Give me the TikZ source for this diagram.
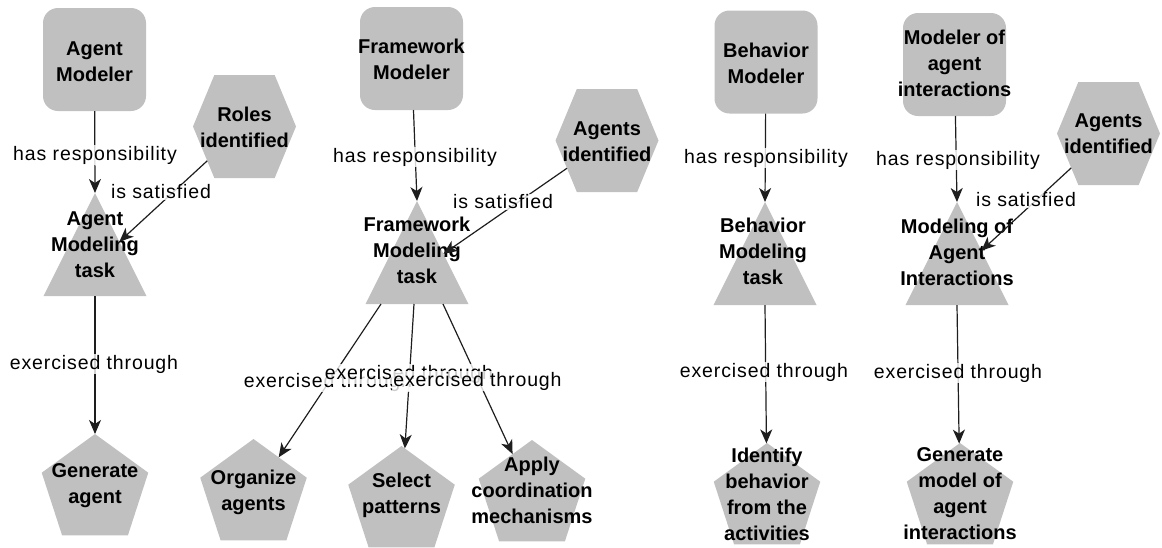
\documentclass[tikz,border=0pt]{standalone}
\usepackage{fontspec}
\setmainfont{Liberation Sans}
\usetikzlibrary{arrows.meta,shapes.geometric,shapes.symbols,calc}
\definecolor{shapegrey}{RGB}{192,192,192}
\definecolor{edgecol}{RGB}{30,30,30}
\tikzset{
  shapebase/.style={fill=shapegrey, draw=none, inner sep=0pt, outer sep=0pt},
  rolebox/.style={shapebase, rectangle, rounded corners=15pt, minimum width=103pt, minimum height=103pt},
  hexbox/.style={shapebase, signal, signal to=east and west, signal from=nowhere, signal pointer angle=135, minimum width=103pt, minimum height=103pt},
  taskbox/.style={shapebase, isosceles triangle, isosceles triangle stretches, shape border rotate=90, minimum width=103pt, minimum height=103pt, anchor=north},
  pentbox/.style={shapebase, regular polygon, regular polygon sides=5, minimum size=112pt},
  nodetext/.style={font=\bfseries\fontsize{20}{26}\selectfont, align=center, inner sep=0pt, text=black},
  lbl/.style={font=\fontsize{19.5}{22}\selectfont\addfontfeatures{LetterSpace=4.5}, fill=white, fill opacity=0.8, text opacity=1, inner sep=1pt, text=black},
  arr/.style={draw=edgecol, line width=1.2pt, -{Stealth[length=14pt,width=12pt,inset=4pt]}},
}
\begin{document}
\begin{tikzpicture}[x=1pt,y=-1pt]
\useasboundingbox (0,0) rectangle (1162,547);
% ---------- shapes ----------
% column 1
\node[rolebox] (am) at (94.5,59.5) {};
\node[hexbox] (ri) at (244.5,126.5) {};
\node[taskbox] (amt) at (95,193) {};
\node[pentbox] (ga) at (95,490) {};
% column 2
\node[rolebox] (fm) at (411.5,58.5) {};
\node[hexbox] (ai1) at (607,140.5) {};
\node[taskbox] (fmt) at (417,201) {};
\node[pentbox] (oa) at (253.5,495) {};
\node[pentbox] (sp) at (401.5,502) {};
\node[pentbox] (ac) at (532,496) {};
% column 3
\node[rolebox] (bm) at (766,62) {};
\node[taskbox] (bmt) at (765,202) {};
\node[pentbox] (ib) at (767,499) {};
% column 4
\node[rolebox] (mai) at (954.5,64.5) {};
\node[hexbox] (ai2) at (1108.5,133.5) {};
\node[taskbox] (mait) at (957,202) {};
\node[pentbox] (gm) at (960,499) {};
% ---------- texts ----------
\node[nodetext] (tam) at (94.5,61.5) {Agent\\Modeler};
\node[nodetext] (tri) at (244.5,127.5) {Roles\\identified};
\node[nodetext] (tamt) at (95,245) {Agent\\Modeling\\task};
\node[nodetext] (tga) at (95,485.5) {Generate\\agent};
\node[nodetext] (tfm) at (411.5,59) {Framework\\Modeler};
\node[nodetext] (tai1) at (607,141.5) {Agents\\identified};
\node[nodetext] (tfmt) at (417,250) {Framework\\Modeling\\task};
\node[nodetext] (toa) at (253.5,492.5) {Organize\\agents};
\node[nodetext] (tsp) at (401.5,495.5) {Select\\patterns};
\node[nodetext] (tac) at (532,490) {Apply\\coordination\\mechanisms};
\node[nodetext] (tbm) at (766,63) {Behavior\\Modeler};
\node[nodetext] (tbmt) at (763,251) {Behavior\\Modeling\\task};
\node[nodetext] (tib) at (767,494) {Identify\\behavior\\from the\\activities};
\node[nodetext] (tmai) at (954.5,63) {Modeler of\\agent\\interactions};
\node[nodetext] (tai2) at (1108.5,134) {Agents\\identified};
\node[nodetext] (tmait) at (957,252) {Modeling of\\Agent\\Interactions};
\node[nodetext] (tgm) at (960,494) {Generate\\model of\\agent\\interactions};
% ---------- connectors ----------
\draw[arr] (am) -- (amt.north);
\draw[arr] (ri) -- (amt);
\draw[arr] (amt.south) -- (ga);
\draw[arr] (fm) -- (fmt.north);
\draw[arr] (ai1) -- (fmt);
\draw[arr] ([xshift=-36pt]fmt.south) -- (oa);
\draw[arr] ([xshift=-3pt]fmt.south) -- (sp);
\draw[arr] ([xshift=26pt]fmt.south) -- (ac);
\draw[arr] (bm) -- (bmt.north);
\draw[arr] (bmt.south) -- (ib);
\draw[arr] (mai) -- (mait.north);
\draw[arr] (ai2) -- (mait);
\draw[arr] (mait.south) -- (gm);
% ---------- labels ----------
\node[lbl] (l1) at (95,155) {has responsibility};
\node[lbl] (l2) at (161,192) {is satisfied};
\node[lbl] (l3) at (94,364) {exercised through};
\node[lbl] (l4) at (415,157) {has responsibility};
\node[lbl] (l5) at (503,202) {is satisfied};
\node[lbl] (l6) at (328,382) {exercised through};
\node[lbl] (l7) at (409,374) {exercised through};
\node[lbl] (l8) at (477.5,381) {exercised through};
\node[lbl] (l9) at (766,158) {has responsibility};
\node[lbl] (l10) at (764,372) {exercised through};
\node[lbl] (l11) at (958,160) {has responsibility};
\node[lbl] (l12) at (1026,200) {is satisfied};
\node[lbl] (l13) at (958,373) {exercised through};
\end{tikzpicture}
\end{document}
